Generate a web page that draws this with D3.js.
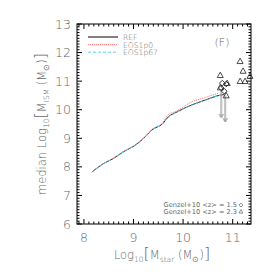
<!DOCTYPE html>
<html><head><meta charset="utf-8">
<script src="https://cdn.jsdelivr.net/npm/d3@7"></script>
<style>body{margin:0;background:#fff}svg{display:block}</style>
</head><body>
<svg id="c" width="274" height="274"></svg>
<script>
// ---- data ----
const refX   = [8.16, 8.39, 8.59, 8.79, 9.06, 9.24, 9.37, 9.58, 9.71, 9.85, 10.18, 10.45, 10.75, 10.83];
const refY   = [7.82, 8.11, 8.29, 8.52, 8.79, 9.06, 9.29, 9.50, 9.76, 9.90, 10.17, 10.34, 10.51, 10.53];
const eos10X = [8.16, 8.39, 8.59, 8.79, 9.06, 9.24, 9.37, 9.58, 9.71, 9.85, 10.18, 10.45, 10.71];
const eos10Y = [7.82, 8.11, 8.30, 8.53, 8.80, 9.07, 9.31, 9.53, 9.84, 9.94, 10.28, 10.43, 10.58];
const eos167X = [8.16, 8.39, 8.59, 8.79, 9.06, 9.24, 9.37, 9.58, 9.71, 9.85, 10.18, 10.45, 10.75, 10.83];
const eos167Y = [7.81, 8.10, 8.29, 8.52, 8.78, 9.05, 9.28, 9.50, 9.75, 9.89, 10.16, 10.33, 10.50, 10.52];
const gz15X = [10.79, 10.87, 10.77, 10.83];
const gz15Y = [10.93, 10.90, 10.76, 10.65];
const gz23X = [11.15, 11.21, 11.15, 11.25, 11.35, 10.75, 10.89, 10.75, 10.87];
const gz23Y = [11.70, 11.36, 11.00, 11.00, 11.18, 11.21, 10.93, 10.78, 10.50];
const ulX = [10.76, 10.78, 10.84, 10.86];
const ulY = [10.65, 10.65, 10.50, 10.50];
const xTicks = [8, 9, 10, 11];
const yTicks = [6, 7, 8, 9, 10, 11, 12, 13];
const legendNames = ["REF", "EOS1p0", "EOS1p67"];

// ---- layout ----
const svg = d3.select("#c");
const L = 77, R = 251, T = 24, B = 224;
const x = d3.scaleLinear().domain([7.86, 11.37]).range([L, R]);
const y = d3.scaleLinear().domain([6, 13]).range([B, T]);
const gray = "#666";

svg.append("clipPath").attr("id","clip").append("rect")
  .attr("x", L).attr("y", T).attr("width", R-L).attr("height", B-T);

svg.append("rect").attr("x", L).attr("y", T).attr("width", R-L).attr("height", B-T)
  .attr("fill","none").attr("stroke","#000").attr("stroke-width",1);

const minorX = d3.range(79, 114).map(d => d/10).filter(v => v >= 7.86 && v <= 11.37);
const minorY = d3.range(60, 131).map(d => d/10);
const tg = svg.append("g").attr("stroke","#000").attr("stroke-width",1);
minorX.forEach(v => {
  const major = Math.abs(v - Math.round(v)) < 1e-6;
  const len = major ? 5 : 2.5;
  tg.append("line").attr("x1", x(v)).attr("x2", x(v)).attr("y1", B).attr("y2", B-len);
  tg.append("line").attr("x1", x(v)).attr("x2", x(v)).attr("y1", T).attr("y2", T+len);
});
minorY.forEach(v => {
  const major = Math.abs(v - Math.round(v)) < 1e-6;
  const len = major ? 5 : 2.5;
  tg.append("line").attr("y1", y(v)).attr("y2", y(v)).attr("x1", L).attr("x2", L+len);
  tg.append("line").attr("y1", y(v)).attr("y2", y(v)).attr("x1", R).attr("x2", R-len);
});

const font = "DejaVu Sans, Liberation Sans, sans-serif";
svg.append("g").selectAll("text").data(xTicks).join("text")
  .attr("x", d => x(d)).attr("y", 242).attr("text-anchor","middle")
  .attr("font-family", font).attr("font-size", 12.5).attr("font-weight", 300)
  .attr("fill", gray).text(d => d);
svg.append("g").selectAll("text").data(yTicks).join("text")
  .attr("x", 71).attr("y", d => y(d) + 4.5).attr("text-anchor","end")
  .attr("font-family", font).attr("font-size", 12.5).attr("font-weight", 300)
  .attr("fill", gray).text(d => d);

const xt = svg.append("text").attr("x", 162).attr("y", 259).attr("text-anchor","middle")
  .attr("font-family", font).attr("font-size", 11.5).attr("font-weight", 300).attr("fill", gray);
xt.append("tspan").text("Log");
xt.append("tspan").attr("font-size", 7.5).attr("dy", 3).text("10");
xt.append("tspan").attr("font-size", 16).attr("dy", -3).text("[");
xt.append("tspan").text("M");
xt.append("tspan").attr("font-size", 7.5).attr("dy", 3).text("star");
xt.append("tspan").attr("dy", -3).text(" (M");
xt.append("tspan").attr("font-size", 7.5).attr("dy", 3).text("⊙");
xt.append("tspan").attr("dy", -3).text(")");
xt.append("tspan").attr("font-size", 16).text("]");

const yt = svg.append("text").attr("transform", "translate(46,124) rotate(-90)")
  .attr("text-anchor","middle").attr("font-family", font).attr("font-size", 11.5)
  .attr("font-weight", 300).attr("fill", gray);
yt.append("tspan").text("median Log");
yt.append("tspan").attr("font-size", 7.5).attr("dy", 3).text("10");
yt.append("tspan").attr("font-size", 16).attr("dy", -3).text("[");
yt.append("tspan").text("M");
yt.append("tspan").attr("font-size", 7.5).attr("dy", 3).text("ISM");
yt.append("tspan").attr("dy", -3).text(" (M");
yt.append("tspan").attr("font-size", 7.5).attr("dy", 3).text("⊙");
yt.append("tspan").attr("dy", -3).text(")");
yt.append("tspan").attr("font-size", 16).text("]");

const plot = svg.append("g").attr("clip-path","url(#clip)");
const line = d3.line().x(d => x(d[0])).y(d => y(d[1])).curve(d3.curveMonotoneX);
const series = [
  {xs: refX, ys: refY, color: "#000", dash: null, w: 0.9},
  {xs: eos10X, ys: eos10Y, color: "#ff6b6b", dash: "1,1", w: 1},
  {xs: eos167X, ys: eos167Y, color: "#5ad3f0", dash: "3,2", w: 1}
];
series.forEach(s => {
  plot.append("path").datum(d3.zip(s.xs, s.ys)).attr("d", line)
    .attr("fill","none").attr("stroke", s.color).attr("stroke-width", s.w)
    .attr("stroke-dasharray", s.dash);
});

const arrowLen = 0.92;
ulX.forEach((v, i) => {
  const x0 = x(v), y0 = y(ulY[i]), y1 = y(ulY[i] - arrowLen);
  plot.append("path")
    .attr("d", `M${x0},${y0}L${x0},${y1}M${x0-2},${y1-3.5}L${x0},${y1}L${x0+2},${y1-3.5}`)
    .attr("fill","none").attr("stroke","#999").attr("stroke-width",0.7);
});

const tri = (cx, cy, s) => `M${cx},${cy-s}L${cx+s},${cy+s*0.8}L${cx-s},${cy+s*0.8}Z`;
const dia = (cx, cy, s) => `M${cx},${cy-s}L${cx+s},${cy}L${cx},${cy+s}L${cx-s},${cy}Z`;
gz23X.forEach((v, i) => {
  svg.append("path").attr("d", tri(x(v), y(gz23Y[i]), 3))
    .attr("fill","none").attr("stroke","#222").attr("stroke-width",0.8);
});
gz15X.forEach((v, i) => {
  plot.append("path").attr("d", dia(x(v), y(gz15Y[i]), 2.8))
    .attr("fill","none").attr("stroke","#222").attr("stroke-width",0.9);
});

legendNames.forEach((n, i) => {
  const s = series[i], ly = 37 + i * 7.6;
  svg.append("line").attr("x1", 88).attr("x2", 118).attr("y1", ly).attr("y2", ly)
    .attr("stroke", s.color).attr("stroke-width", 1).attr("stroke-dasharray", s.dash);
  svg.append("text").attr("x", 123).attr("y", ly + 3).attr("font-family", font)
    .attr("font-size", 7.6).attr("font-weight", 300).attr("fill", gray).text(n);
});

svg.append("text").attr("x", 222).attr("y", 46).attr("text-anchor","middle")
  .attr("font-family", font).attr("font-size", 11).attr("font-weight", 300)
  .attr("fill", gray).text("(F)");

const gtxt = ["Genzel+10 <z> = 1.5", "Genzel+10 <z> = 2.3"];
gtxt.forEach((t, i) => {
  const ty = 207 + i * 6.5;
  svg.append("text").attr("x", 237).attr("y", ty).attr("text-anchor","end")
    .attr("font-family", font).attr("font-size", 6.6).attr("fill", gray)
    .attr("xml:space","preserve").text(t.replace(/ /g, "\u00a0"));
  const sym = i === 0 ? dia(241, ty - 2, 2) : tri(241, ty - 2, 2);
  svg.append("path").attr("d", sym).attr("fill","none").attr("stroke", gray).attr("stroke-width", 0.7);
});
</script>
</body></html>
